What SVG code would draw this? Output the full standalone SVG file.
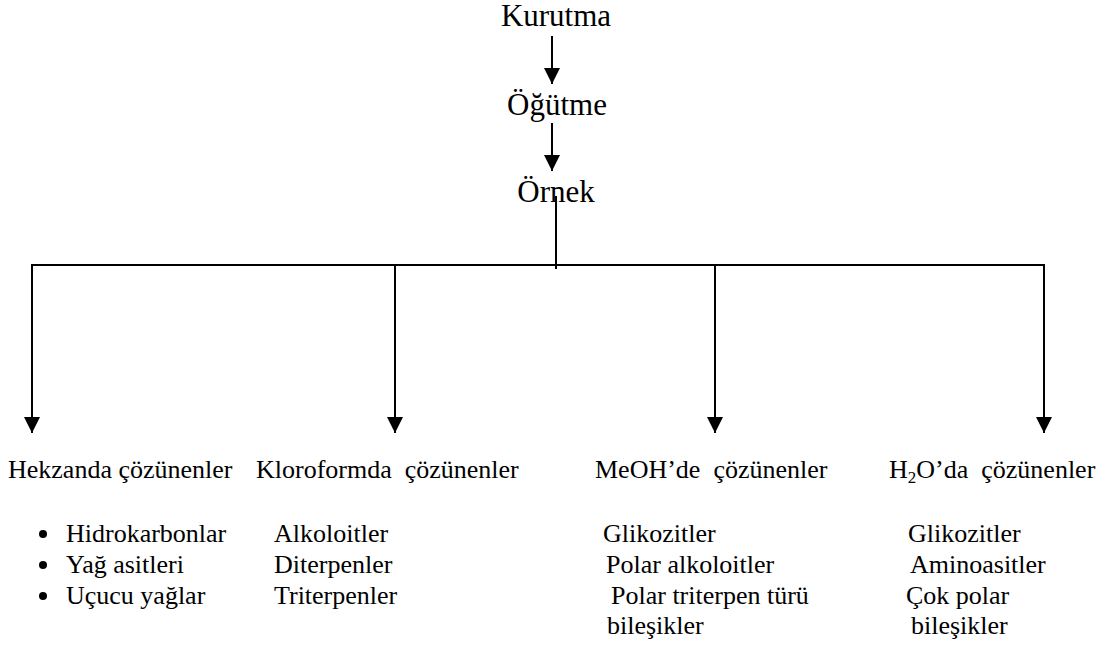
<svg xmlns="http://www.w3.org/2000/svg" width="1114" height="648" viewBox="0 0 1114 648">
<defs>
<style>
text{font-family:"Liberation Serif","Times New Roman",serif;fill:#000;white-space:pre}
.top{font-size:31px;text-anchor:middle}
.b{font-size:26px}
.ln{stroke:#000;stroke-width:2;fill:none}
</style>
<marker id="ah2" viewBox="0 0 16 16" refX="16" refY="8" markerWidth="16" markerHeight="16" markerUnits="userSpaceOnUse" orient="auto">
<path d="M0,0 L16,8 L0,16 z" fill="#000"/>
</marker>
</defs>
<rect width="1114" height="648" fill="#fff"/>
<g id="connectors">
<line class="ln" x1="552" y1="36" x2="552" y2="84" marker-end="url(#ah2)"/>
<line class="ln" x1="552" y1="123" x2="552" y2="171" marker-end="url(#ah2)"/>
<line class="ln" x1="556" y1="196" x2="556" y2="269"/>
<line class="ln" x1="32" y1="265" x2="1044" y2="265"/>
<line class="ln" x1="32" y1="264" x2="32" y2="433" marker-end="url(#ah2)"/>
<line class="ln" x1="395" y1="265" x2="395" y2="433" marker-end="url(#ah2)"/>
<line class="ln" x1="715" y1="265" x2="715" y2="433" marker-end="url(#ah2)"/>
<line class="ln" x1="1044" y1="264" x2="1044" y2="433" marker-end="url(#ah2)"/>
</g>
<g id="kurutma"><text class="top" x="556" y="26">Kurutma</text></g>
<g id="ogutme"><text class="top" x="557" y="115">Öğütme</text></g>
<g id="ornek"><text class="top" x="556" y="202">Örnek</text></g>
<g id="hekzan">
<text class="b" x="8" y="478">Hekzanda çözünenler</text>
<circle cx="43" cy="534" r="4"/>
<circle cx="43" cy="565" r="4"/>
<circle cx="43" cy="596" r="4"/>
<text class="b" x="66" y="542">Hidrokarbonlar</text>
<text class="b" x="66" y="573">Yağ asitleri</text>
<text class="b" x="66" y="604">Uçucu yağlar</text>
</g>
<g id="kloroform">
<text class="b" x="256" y="478">Kloroformda  çözünenler</text>
<text class="b" x="274" y="542">Alkoloitler</text>
<text class="b" x="274" y="573">Diterpenler</text>
<text class="b" x="274" y="604">Triterpenler</text>
</g>
<g id="meoh">
<text class="b" x="595" y="478">MeOH’de  çözünenler</text>
<text class="b" x="603" y="542">Glikozitler</text>
<text class="b" x="606" y="573">Polar alkoloitler</text>
<text class="b" x="611" y="604">Polar triterpen türü</text>
<text class="b" x="607" y="634">bileşikler</text>
</g>
<g id="h2o">
<text class="b" x="889" y="478">H<tspan font-size="17" dy="5">2</tspan><tspan dy="-5">O’da  çözünenler</tspan></text>
<text class="b" x="908" y="542">Glikozitler</text>
<text class="b" x="910" y="573">Aminoasitler</text>
<text class="b" x="906" y="604">Çok polar</text>
<text class="b" x="911" y="634">bileşikler</text>
</g>
</svg>
